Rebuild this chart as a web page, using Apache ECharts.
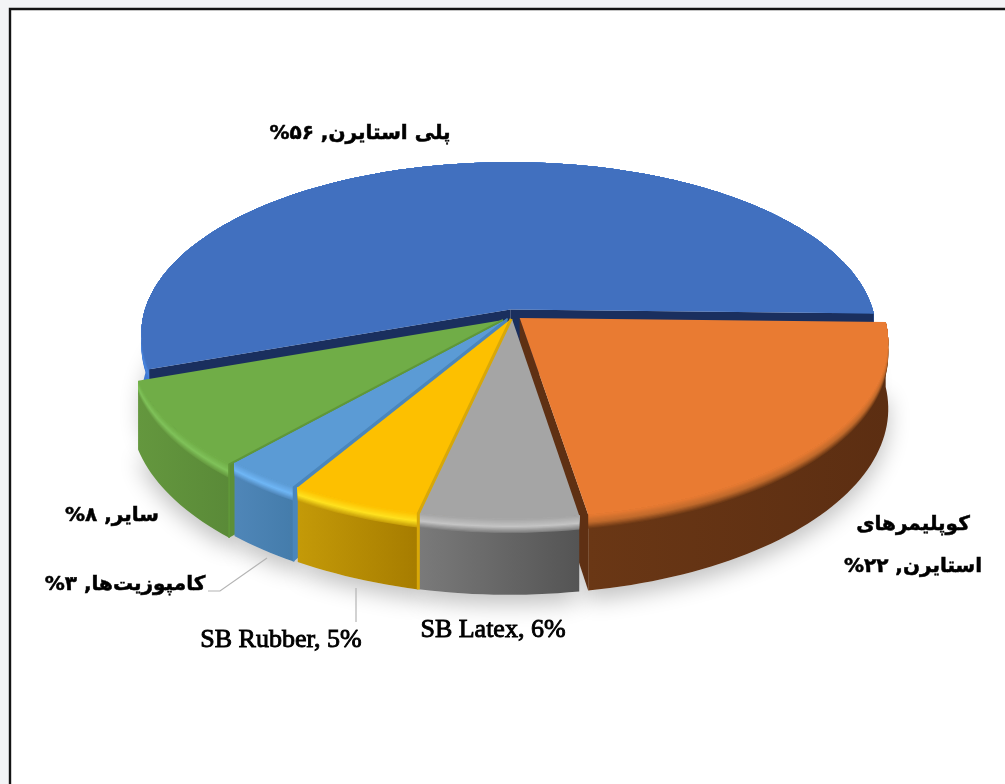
<!DOCTYPE html>
<html><head><meta charset="utf-8">
<style>html,body{margin:0;padding:0;background:#f3f4f6}#c{width:1005px;height:784px}</style>
<script src="https://cdn.jsdelivr.net/npm/echarts@6/dist/echarts.min.js"></script>
</head><body><div id="c"></div>
<script>
const categories = ['پلی استایرن','کوپلیمرهای\nاستایرن','SB Latex','SB Rubber','کامپوزیت‌ها','سایر'];
const shares = [56,22,6,5,3,8];
const isPersian = [true,true,false,false,true,true];
// styling, separate from the data
const faceColors = ['#4170bf','#e97b32','#a5a5a5','#fdc000','#5b9bd5','#70ad47'];
const bevelColors = ['#4a86de','#c06a2c','#c4c4c4','#ffe21f','#6fb6f5','#80c25a'];
const wallDark = ['#3465b0','#5c2e12','#545454','#a67c00','#447cab','#5a8a38'];
const wallLight = ['#3f78d4','#6a3715','#7a7a7a','#c49a08','#4f86b8','#64973e'];
const cutColors = ['#1a2f5e','#5f3013','#6a6a6a','#d2a206','#4a86bc','#5d8f39'];
const seamColors = [null,null,null,'#d8a808','#4a86bc','#5f9739'];
const sliceOffsets = [[-0.006,0.05],[0.021,0],[0,-0.004],[-0.002,-0.005],[-0.012,-0.004],[-0.024,-0.012]];
const drawOrder = [0,4,5,3,2,1];
const labelAnchors = [[360,134],[913,546],[493,630],[281,640],[125,585],[112,516]];
const labelLeaders = [null,null,null,[[356,588],[356,622]],[[208,591],[220,591],[267,558]],null];

const G = {cx:512, cy:318, Rx:366, Rt:171, k:0.145, shear:-0.065, rollL:0.016, rollR:0.011, depth:65};
const START = -111.6;
const total = shares.reduce((a,b)=>a+b,0);
const toFa = n => String(n).replace(/\d/g,d=>'۰۱۲۳۴۵۶۷۸۹'[d]);

function project(X,Y,d){ // X,Y in disk units (Y back), d = depth in px
  const s = 1/(1+G.k*Y);
  const yOff = -Y*G.Rt*s;
  const xOff = X*G.Rx*s + G.shear*yOff;
  return [G.cx + xOff, G.cy + yOff + (xOff<0?G.rollL:G.rollR)*xOff + d*s];
}
const rad = a=>a*Math.PI/180;
function rimPts(a0,a1,ox,oy,d){
  const n=Math.max(6,Math.ceil(Math.abs(a1-a0)/1.5)),p=[];
  for(let i=0;i<=n;i++){const a=rad(a0+(a1-a0)*i/n);p.push(project(ox+Math.sin(a),oy+Math.cos(a),d));}
  return p;
}
function hex(c){return [1,3,5].map(i=>parseInt(c.substr(i,2),16));}
function mix(a,b,t){const A=hex(a),B=hex(b);return 'rgb('+A.map((v,i)=>Math.round(v+(B[i]-v)*t)).join(',')+')';}

function renderItem(params,api){
  const i=params.dataIndex, v=api.value(1);
  let before=0; for(let j=0;j<i;j++) before+=shares[j];
  const a0=START+before/total*360, a1=a0+v/total*360;
  const ox=sliceOffsets[i][0], oy=sliceOffsets[i][1];
  const base=20+drawOrder[i]*5, kids=[];
  const poly=(points,fill,z,extra)=>kids.push({type:'polygon',z2:z,silent:true,shape:{points},style:Object.assign({fill},extra||{})});
  const apex=d=>project(ox,oy,d);
  const h=G.depth;
  // soft ground shadow
  const sh=rimPts(a0,a1,ox,oy,h); sh.push(apex(h));
  poly(sh,'#e4e4e4',1,{shadowBlur:22,shadowColor:'rgba(0,0,0,0.24)',shadowOffsetY:10});
  // outer wall
  const wTop=rimPts(a0,a1,ox,oy,0), wBot=rimPts(a0,a1,ox,oy,h).reverse();
  const xs=wTop.map(p=>p[0]), x0=Math.min(...xs), x1=Math.max(...xs);
  poly(wTop.concat(wBot),{type:'linear',x:x0,y:0,x2:x1,y2:0,global:true,colorStops:[
    {offset:0,color:wallLight[i]},{offset:1,color:wallDark[i]}]},base);
  // rounded bevel between the top and the wall
  const N=12, bev=12;
  for(let k=N-1;k>=0;k--){
    const d1=bev*(k+1)/N, t=(k+0.5)/N;
    const col=t<0.55?mix(faceColors[i],bevelColors[i],t/0.55):mix(bevelColors[i],wallLight[i],(t-0.55)/0.45);
    poly(rimPts(a0,a1,ox,oy,0).concat(rimPts(a0,a1,ox,oy,d1).reverse()),col,base+1);
  }
  // cut faces that look toward the viewer
  [[a0,-1],[a1,1]].forEach(([a,side])=>{
    if(side*Math.sin(rad(a))>0){
      const r0=rimPts(a,a,ox,oy,0)[0], r1=rimPts(a,a,ox,oy,h)[0];
      poly([apex(0),r0,r1,apex(h)],cutColors[i],base+2);
    }
  });
  // top face
  poly(rimPts(a0,a1,ox,oy,0).concat([apex(0)]),faceColors[i],base+3);
  // coloured seam along the front-left cut edge
  if(seamColors[i]){
    const r0=rimPts(a0,a0,ox,oy,0)[0], r1=rimPts(a0,a0,ox,oy,h)[0];
    kids.push({type:'polyline',z2:55,silent:true,shape:{points:[apex(0),r0,r1]},style:{fill:null,stroke:seamColors[i],lineWidth:i===3?3:1.8}});
  }
  // leader + label
  if(labelLeaders[i]) kids.push({type:'polyline',z2:60,silent:true,shape:{points:labelLeaders[i]},style:{fill:null,stroke:'#b4b4b4',lineWidth:1.2}});
  const pct=isPersian[i]?toFa(v)+'%':v+'%';
  let txt=categories[i]+', '+pct;
  if(isPersian[i]) txt=txt.split('\n').map(l=>'\u202B'+l+'\u202C').join('\n');
  kids.push({type:'text',z2:70,silent:true,x:labelAnchors[i][0],y:labelAnchors[i][1],style:{
    text:txt,align:'center',verticalAlign:'middle',fill:'#000',stroke:'#000',
    lineWidth:isPersian[i]?0.5:0.9,
    font:isPersian[i]?'bold 20px "DejaVu Sans"':'26px "Liberation Serif"',
    lineHeight:42}});
  return {type:'group',children:kids};
}
const chart=echarts.init(document.getElementById('c'),null,{renderer:'canvas'});
chart.setOption({
  animation:false,backgroundColor:'#f3f4f6',
  graphic:[{type:'rect',z:-2,silent:true,shape:{x:9.5,y:8.5,width:1000,height:780},style:{fill:'#fff'}},
           {type:'polyline',z:-1,silent:true,shape:{points:[[1006,9],[10,9],[10,785]]},style:{fill:null,stroke:'#141414',lineWidth:2.4}}],
  series:[{type:'custom',coordinateSystem:'none',renderItem,silent:true,z:2,
    data:shares.map((v,i)=>[i,v])}]
});
</script></body></html>
